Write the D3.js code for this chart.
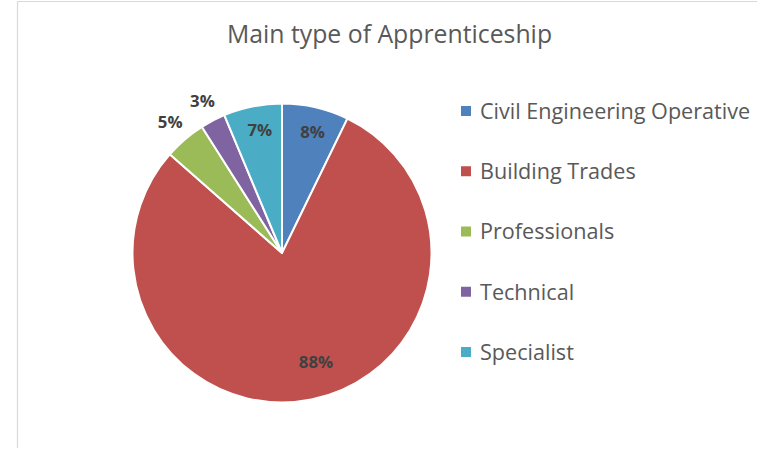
<!DOCTYPE html>
<html><head><meta charset="utf-8">
<script src="https://cdn.jsdelivr.net/npm/d3@7"></script>
<style>html,body{margin:0;padding:0;background:#fff;}svg{display:block;}</style>
</head><body>
<script>
const title = "Main type of Apprenticeship";
const categories = ["Civil Engineering Operative","Building Trades","Professionals","Technical","Specialist"];
const values = [8, 88, 5, 3, 7];
const colors = ["#4f81bd","#c0504d","#9bbb59","#8064a2","#4bacc6"];

const W = 757, H = 449;
const svg = d3.select("body").append("svg").attr("width", W).attr("height", H);
const font = "'Open Sans', sans-serif";

svg.append("path").attr("d", `M17.5,448 L17.5,1.5 L757,1.5`).attr("fill","none").attr("stroke","#d9d9d9").attr("stroke-width",1.2);

svg.append("text").attr("x", 389.5).attr("y", 43).attr("text-anchor","middle")
  .attr("font-family", font).attr("font-size", 24.8).attr("fill","#595959").text(title);

const cx = 282, cy = 253, R = 149.5;
const pie = d3.pie().sort(null).value(d => d)(values);
const arc = d3.arc().innerRadius(0).outerRadius(R);
const g = svg.append("g").attr("transform", `translate(${cx},${cy})`);
g.selectAll("path").data(pie).join("path")
  .attr("d", arc).attr("fill", (d,i) => colors[i])
  .attr("stroke","#fff").attr("stroke-width",2).attr("stroke-linejoin","round");

const inArc = d3.arc().innerRadius(0).outerRadius(250);
const outArc = d3.arc().innerRadius(172).outerRadius(172);
g.selectAll("text").data(pie).join("text")
  .attr("transform", (d,i) => {
    const frac = d.value / d3.sum(values);
    let c;
    if (frac < 0.05) c = outArc.centroid(d);
    else if (frac > 0.5) { const a = d3.arc().innerRadius(0).outerRadius(228); c = a.centroid({startAngle:d.startAngle + 0.06, endAngle:d.endAngle - 0.27}); }
    else c = inArc.centroid({startAngle:d.startAngle + 0.02, endAngle:d.endAngle + 0.02});
    return `translate(${c[0]},${c[1]})`;
  })
  .attr("text-anchor","middle").attr("dy","0.36em")
  .attr("font-family", font).attr("font-weight","bold").attr("font-size", 16.8)
  .attr("fill","#404040").text(d => d.value + "%");

const leg = svg.append("g");
const ly = d3.scalePoint().domain(categories).range([111, 352]);
categories.forEach((c,i) => {
  leg.append("rect").attr("x", 461).attr("y", ly(c)-5).attr("width",10).attr("height",10).attr("fill", colors[i]);
  leg.append("text").attr("x", 480).attr("y", ly(c)).attr("dy","0.36em")
    .attr("font-family", font).attr("font-size", 21.6).attr("fill","#595959").text(c);
});
</script>
</body></html>
